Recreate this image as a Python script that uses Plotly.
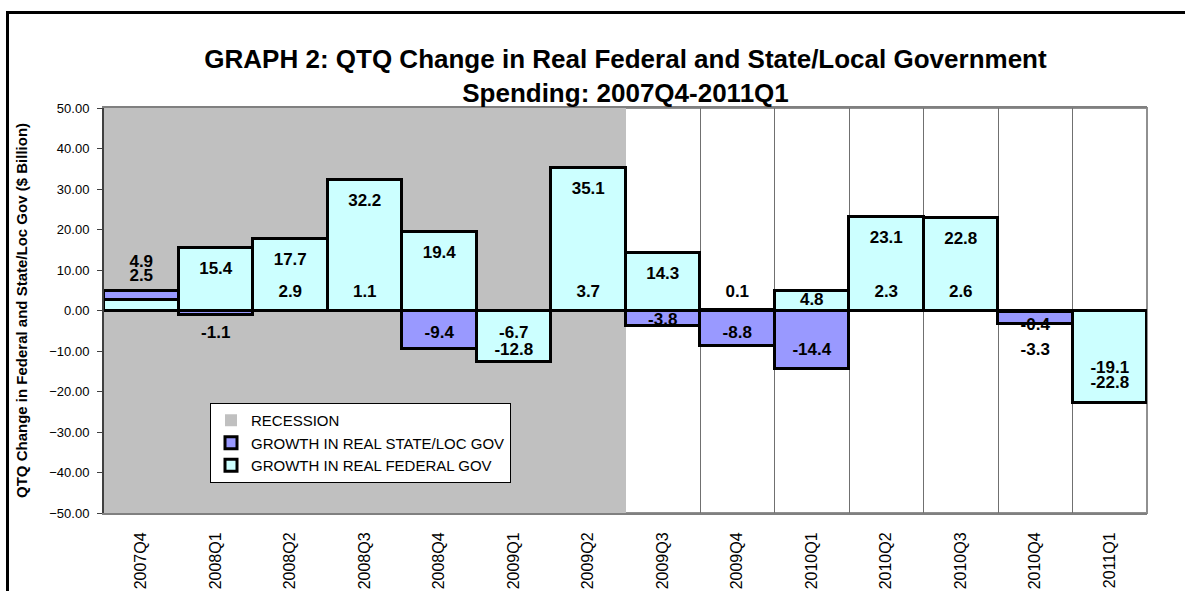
import math
import plotly.graph_objects as go

# ---- data ----
quarters = ["2007Q4", "2008Q1", "2008Q2", "2008Q3", "2008Q4", "2009Q1", "2009Q2",
            "2009Q3", "2009Q4", "2010Q1", "2010Q2", "2010Q3", "2010Q4", "2011Q1"]
state_loc = [4.9, -1.1, 2.9, 1.1, -9.4, -6.7, 3.7, -3.8, -8.8, -14.4, 2.3, 2.6, -3.3, -19.1]
federal = [2.5, 15.4, 17.7, 32.2, 19.4, -12.8, 35.1, 14.3, 0.1, 4.8, 23.1, 22.8, -0.4, -22.8]
recession = [1, 1, 1, 1, 1, 1, 1, 0, 0, 0, 0, 0, 0, 0]
y_min, y_max = -50, 50

FONT = "Liberation Sans, Arial, sans-serif"
xs = list(range(len(quarters)))

# plot-area geometry in pixels
W, H = 1185, 591
L, R, T, B = 104, 38, 108, 78
PW, PH = W - L - R, H - T - B

# Excel-like data-label placement: inside end for long bars, near base for short ones
def label_y(v):
    if abs(v) >= 10:
        return v - math.copysign(5.4, v)
    return 4.5 if v > 0 else -5.7

# manual nudges (data units) applied where Excel labels were moved to avoid overlap
nudge_state = {0: 7.4, 7: 3.2, 9: -0.9, 12: -4.2, 13: -0.6}
nudge_fed = {0: 3.9, 5: -2.5, 9: -2.0, 12: 2.0, 13: -0.6}

lab_x, lab_y, lab_t = [], [], []
for i, v in enumerate(state_loc):
    lab_x.append(i); lab_y.append(label_y(v) + nudge_state.get(i, 0)); lab_t.append(f"{v:.1f}")
for i, v in enumerate(federal):
    lab_x.append(i); lab_y.append(label_y(v) + nudge_fed.get(i, 0)); lab_t.append(f"{v:.1f}")

fig = go.Figure()

fig.add_trace(go.Bar(
    x=xs, y=[(y_max - y_min) * r for r in recession], base=y_min,
    name="RECESSION", marker=dict(color="#C0C0C0", line=dict(width=0)),
    width=1, legendgroup="a", hoverinfo="skip"))
fig.add_trace(go.Bar(
    x=xs, y=state_loc, name="GROWTH IN REAL STATE/LOC GOV",
    marker=dict(color="#9999FF", line=dict(color="black", width=3)),
    width=1, legendgroup="b"))
fig.add_trace(go.Bar(
    x=xs, y=federal, name="GROWTH IN REAL FEDERAL GOV",
    marker=dict(color="#CCFFFF", line=dict(color="black", width=3)),
    width=1, legendgroup="c"))
fig.add_trace(go.Scatter(
    x=lab_x, y=lab_y, text=lab_t, mode="text", showlegend=False,
    textfont=dict(family=FONT, size=17, color="black", weight="bold"),
    hoverinfo="skip", cliponaxis=False))

fig.update_layout(
    width=W, height=H,
    margin=dict(l=L, r=R, t=T, b=B, autoexpand=False),
    paper_bgcolor="white", plot_bgcolor="white",
    barmode="overlay", bargap=0,
    font=dict(family=FONT, color="black"),
    title=dict(
        text="<b>GRAPH 2: QTQ Change in Real Federal and State/Local Government<br>Spending: 2007Q4-2011Q1</b>",
        x=0.5, xref="paper", xanchor="center", yref="container", y=1 - 68 / H, yanchor="middle",
        font=dict(family=FONT, size=26, color="black")),
    legend=dict(
        x=(210 - L) / PW, y=(H - B - 403) / PH, xanchor="left", yanchor="top",
        bgcolor="white", bordercolor="black", borderwidth=1,
        font=dict(family=FONT, size=15, color="black"),
        itemwidth=30, tracegroupgap=2, traceorder="normal"),
    xaxis=dict(
        range=[-0.5, len(quarters) - 0.5], tickmode="array", tickvals=xs, ticktext=quarters,
        tickangle=-90, ticks="", showgrid=False, zeroline=False, automargin=False,
        tickfont=dict(family=FONT, size=16, color="black"), ticklabelstandoff=11,
        showline=True, linecolor="#808080", linewidth=2, mirror=True, layer="below traces",
        minor=dict(tickmode="array", tickvals=[i + 0.5 for i in xs[:-1]],
                   showgrid=True, gridcolor="#707070", gridwidth=1, ticks="")),
    yaxis=dict(
        range=[y_min, y_max], tickmode="linear", tick0=y_min, dtick=10, tickformat=".2f",
        ticks="outside", ticklen=5, tickcolor="#404040", tickwidth=1,
        showgrid=False, zeroline=False, automargin=False,
        showline=True, linecolor="#404040", linewidth=2, mirror=False,
        tickfont=dict(family=FONT, size=13, color="black"), ticklabelstandoff=5,
        title=dict(text="<b>QTQ Change in Federal and State/Loc Gov ($ Billion)</b>",
                   font=dict(family=FONT, size=15, color="black"), standoff=18)),
    shapes=[
        # plot-area border (hidden behind recession band like the original)
        dict(type="rect", xref="paper", yref="paper", x0=0, y0=0, x1=1, y1=1,
             line=dict(color="#909090", width=2), layer="below"),
        # outer frame of the figure
        dict(type="rect", xref="paper", yref="paper",
             x0=(7.5 - L) / PW, y0=-0.6, x1=1.3, y1=(H - B - 12.5) / PH,
             line=dict(color="black", width=3), layer="above"),
    ],
)

# remove the browser's default page margin so the figure sits at the window origin
fig.write_html("out.html", config={"displayModeBar": False},
               post_script="document.body.style.margin='0';")
